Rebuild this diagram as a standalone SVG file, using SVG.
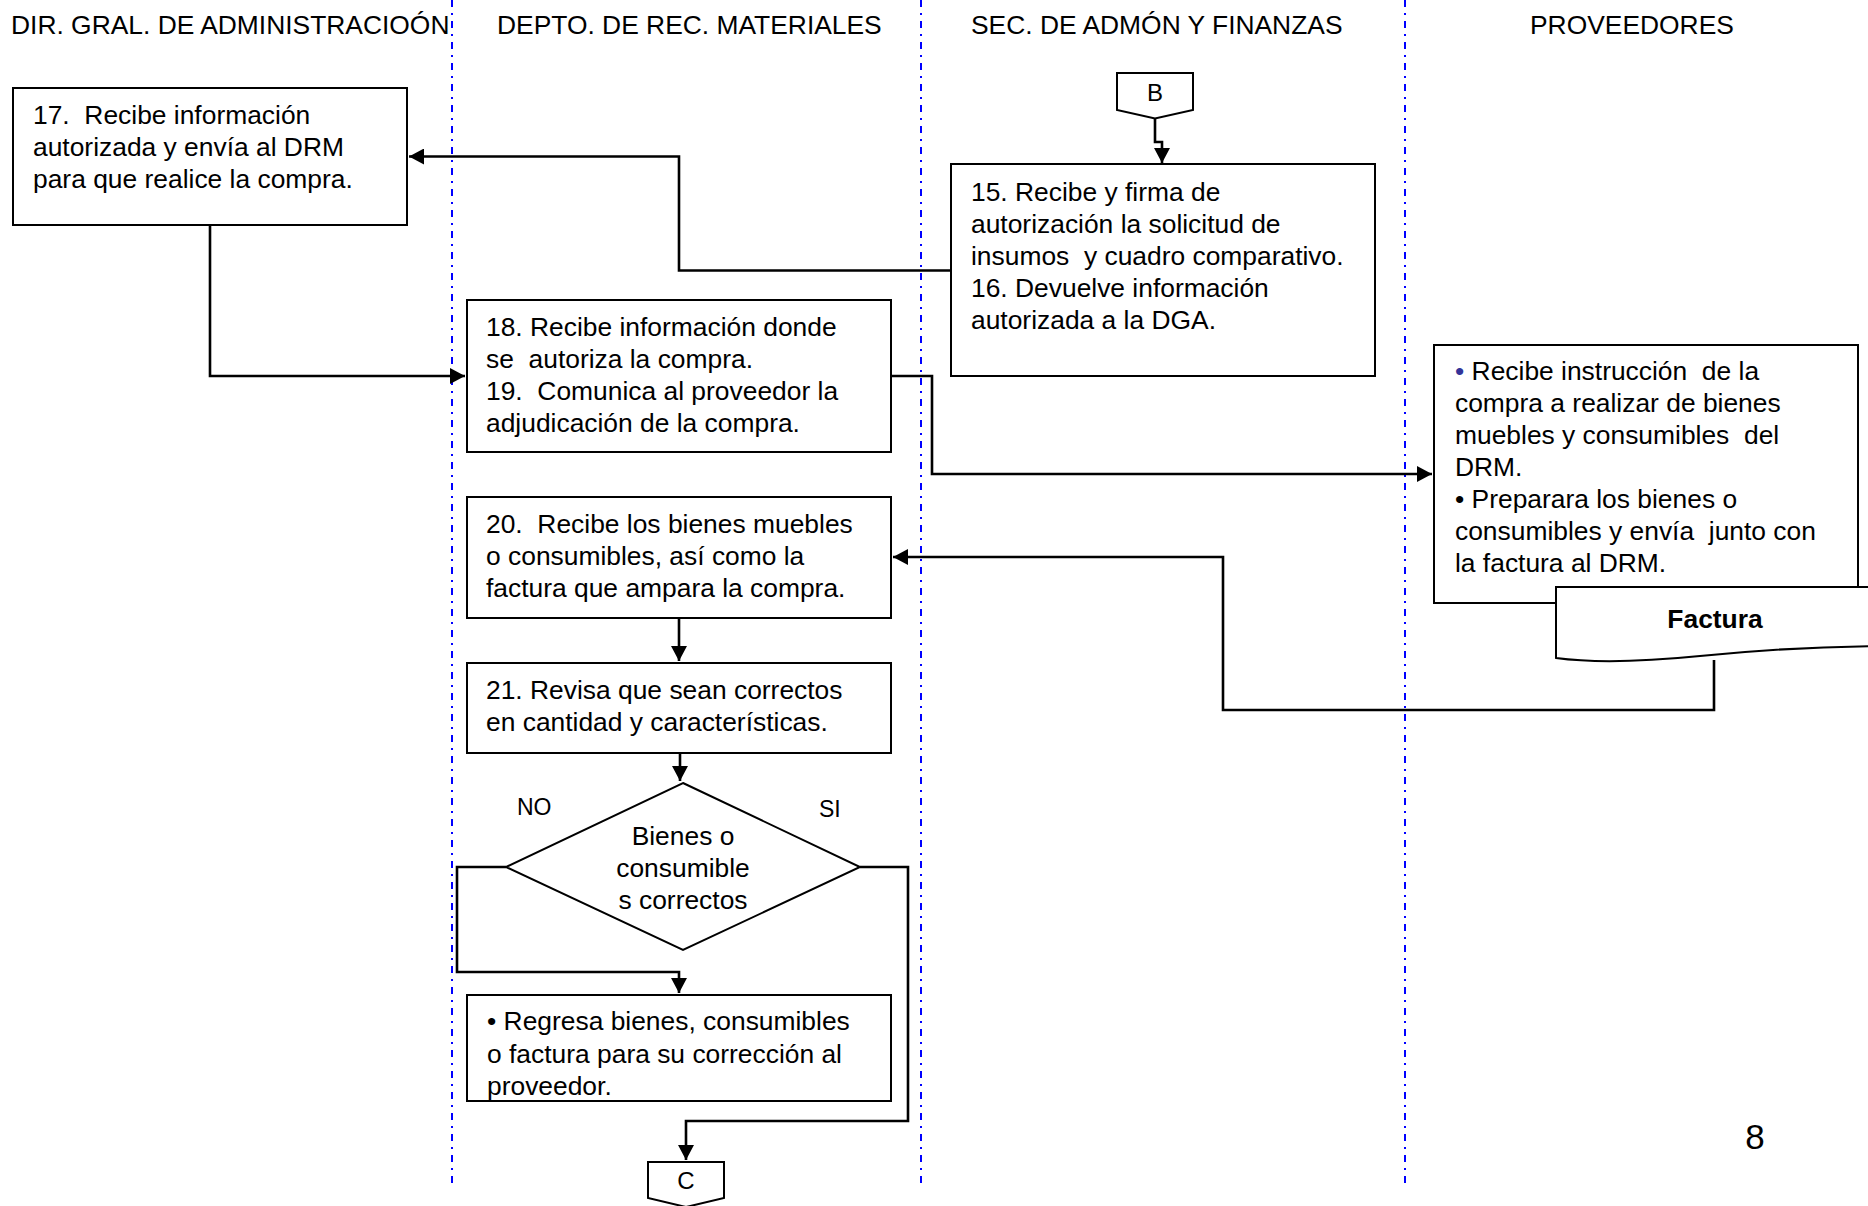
<svg xmlns="http://www.w3.org/2000/svg" width="1868" height="1206" viewBox="0 0 1868 1206">
  <style>
    text { font-family: "Liberation Sans", Arial, sans-serif; font-size: 26.4px; fill: #000; white-space: pre; }
    .lane { stroke: #0000ff; stroke-width: 2; stroke-dasharray: 7 6 2 6; fill: none; }
    .box { fill: #fff; stroke: #000; stroke-width: 2; }
    .conn { fill: none; stroke: #000; stroke-width: 2.6; marker-end: url(#arrow); }
    .mid { text-anchor: middle; }
    .lbl { font-size: 23px; }
    .bold { font-weight: bold; }
  </style>
  <defs>
    <marker id="arrow" markerUnits="userSpaceOnUse" markerWidth="16" markerHeight="16" refX="15" refY="8" orient="auto">
      <path d="M0,0 L15,8 L0,16 z" fill="#000"/>
    </marker>
  </defs>

  <rect width="1868" height="1206" fill="#fff"/>

  <!-- swimlane separators and titles -->
  <g id="lanes">
    <line class="lane" x1="452" y1="0" x2="452" y2="1189"/>
    <line class="lane" x1="921" y1="0" x2="921" y2="1189"/>
    <line class="lane" x1="1405" y1="0" x2="1405" y2="1189"/>
    <text x="11" y="34">DIR. GRAL. DE ADMINISTRACIOÓN</text>
    <text x="497" y="34">DEPTO. DE REC. MATERIALES</text>
    <text x="971" y="34">SEC. DE ADMÓN Y FINANZAS</text>
    <text x="1530" y="34">PROVEEDORES</text>
  </g>

  <!-- connectors -->
  <g id="connectors">
    <path class="conn" d="M1155,118 V142 H1162 V163"/>
    <path class="conn" d="M951,270.5 H679 V156.5 H409"/>
    <path class="conn" d="M210,225 V376 H465"/>
    <path class="conn" d="M891,376 H932 V474 H1432"/>
    <path class="conn" d="M1714,660 V710 H1223 V557 H893"/>
    <path class="conn" d="M679,618 V661"/>
    <path class="conn" d="M680,753 V781"/>
    <path class="conn" d="M506,867 H457 V972 H679 V993"/>
    <path class="conn" d="M860,867 H908 V1121 H686 V1160"/>
  </g>

  <!-- off-page connector B -->
  <g id="node-b">
    <path class="box" d="M1117,73 H1193 V110 L1155,118.5 L1117,110 Z"/>
    <text class="mid" x="1155" y="101" style="font-size:24px">B</text>
  </g>

  <g id="node-15">
    <rect class="box" x="951" y="164" width="424" height="212"/>
    <text x="971" y="201">15. Recibe y firma de</text>
    <text x="971" y="233">autorización la solicitud de</text>
    <text x="971" y="265">insumos  y cuadro comparativo.</text>
    <text x="971" y="297">16. Devuelve información</text>
    <text x="971" y="329">autorizada a la DGA.</text>
  </g>

  <g id="node-17">
    <rect class="box" x="13" y="88" width="394" height="137"/>
    <text x="33" y="124">17.  Recibe información</text>
    <text x="33" y="156">autorizada y envía al DRM</text>
    <text x="33" y="188">para que realice la compra.</text>
  </g>

  <g id="node-18">
    <rect class="box" x="467" y="300" width="424" height="152"/>
    <text x="486" y="336">18. Recibe información donde</text>
    <text x="486" y="368">se  autoriza la compra.</text>
    <text x="486" y="400">19.  Comunica al proveedor la</text>
    <text x="486" y="432">adjudicación de la compra.</text>
  </g>

  <g id="node-proveedor">
    <rect class="box" x="1434" y="345" width="424" height="258"/>
    <text x="1455" y="380"><tspan fill="#333399">•</tspan> Recibe instrucción  de la</text>
    <text x="1455" y="412">compra a realizar de bienes</text>
    <text x="1455" y="444">muebles y consumibles  del</text>
    <text x="1455" y="476">DRM.</text>
    <text x="1455" y="508">• Preparara los bienes o</text>
    <text x="1455" y="540">consumibles y envía  junto con</text>
    <text x="1455" y="572">la factura al DRM.</text>
  </g>

  <!-- document symbol: invoice -->
  <g id="node-factura">
    <path class="box" d="M1556,658 V587 H1890 V646 C1820,646 1760,650 1700,656 C1650,661 1600,664 1556,658 Z"/>
    <text class="mid bold" x="1715" y="628">Factura</text>
  </g>

  <g id="node-20">
    <rect class="box" x="467" y="497" width="424" height="121"/>
    <text x="486" y="533">20.  Recibe los bienes muebles</text>
    <text x="486" y="565">o consumibles, así como la</text>
    <text x="486" y="597">factura que ampara la compra.</text>
  </g>

  <g id="node-21">
    <rect class="box" x="467" y="663" width="424" height="90"/>
    <text x="486" y="699">21. Revisa que sean correctos</text>
    <text x="486" y="731">en cantidad y características.</text>
  </g>

  <g id="node-decision">
    <path class="box" d="M683,783 L860,867 L683,950 L506,867 Z"/>
    <text class="mid" x="683" y="845">Bienes o</text>
    <text class="mid" x="683" y="877">consumible</text>
    <text class="mid" x="683" y="909">s correctos</text>
    <text class="lbl" x="517" y="815">NO</text>
    <text class="lbl" x="819" y="817">SI</text>
  </g>

  <g id="node-regresa">
    <rect class="box" x="467" y="995" width="424" height="106"/>
    <text x="487" y="1030">• Regresa bienes, consumibles</text>
    <text x="487" y="1063">o factura para su corrección al</text>
    <text x="487" y="1095">proveedor.</text>
  </g>

  <!-- off-page connector C -->
  <g id="node-c">
    <path class="box" d="M648,1162 H724 V1198 L686,1207 L648,1198 Z"/>
    <text class="mid" x="686" y="1189" style="font-size:24px">C</text>
  </g>

  <text class="mid" x="1755" y="1149" style="font-size:35px">8</text>
</svg>
